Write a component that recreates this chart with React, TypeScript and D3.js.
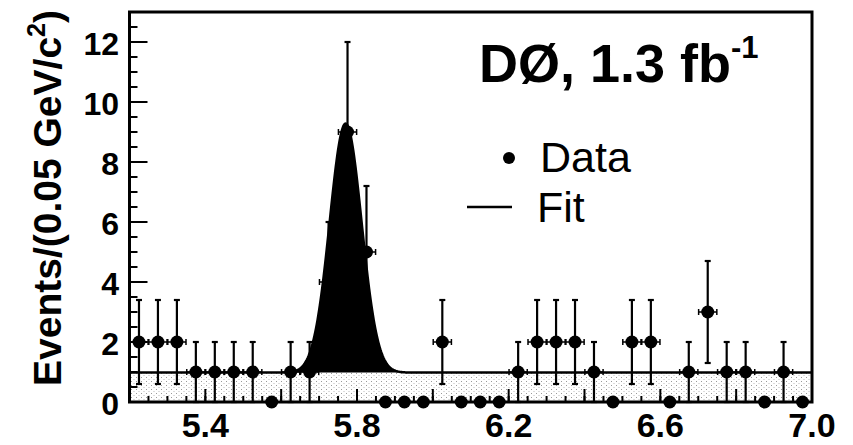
import React from "react";
import { scaleLinear, range, line, area } from "d3";

// bin centres (GeV/c^2), 0.05 wide
const masses = [
  5.225, 5.275, 5.325, 5.375, 5.425, 5.475, 5.525, 5.575, 5.625, 5.675, 5.725, 5.775,
  5.825, 5.875, 5.925, 5.975, 6.025, 6.075, 6.125, 6.175, 6.225, 6.275, 6.325, 6.375,
  6.425, 6.475, 6.525, 6.575, 6.625, 6.675, 6.725, 6.775, 6.825, 6.875, 6.925, 6.975,
];
const counts = [
  2, 2, 2, 1, 1, 1, 1, 0, 1, 1, 4, 9,
  5, 0, 0, 0, 2, 0, 0, 0, 1, 2, 2, 2,
  1, 0, 2, 2, 0, 1, 3, 1, 1, 0, 1, 0,
];
const errors = [
  1.4, 1.4, 1.4, 1, 1, 1, 1, 0, 1, 1, 2, 3,
  2.2, 0, 0, 0, 1.4, 0, 0, 0, 1, 1.4, 1.4, 1.4,
  1, 0, 1.4, 1.4, 0, 1, 1.7, 1, 1, 0, 1, 0,
];
const xTickLabels = [5.4, 5.8, 6.2, 6.6, 7.0];
const yTickLabels = [0, 2, 4, 6, 8, 10, 12];

// fit: flat background + gaussian
const fitBackground = 0.98;
const fitAmp = 8.3;
const fitMean = 5.77;
const fitSigma = 0.042;

const width = 853;
const height = 445;
const font = "'Liberation Sans', Arial, Helvetica, sans-serif";

const App = () => {
  const x = scaleLinear().domain([5.2, 7.0]).range([129.5, 812]);
  const y = scaleLinear().domain([0, 13]).range([402, 12]);

  const fitFn = (m: number) =>
    fitBackground + fitAmp * Math.exp(-0.5 * ((m - fitMean) / fitSigma) ** 2);
  const fitXs = range(5.2, 7.0001, 0.002);

  const fitLine = line<number>()
    .x((d) => x(d))
    .y((d) => y(fitFn(d)));
  const peakArea = area<number>()
    .x((d) => x(d))
    .y0(y(fitBackground))
    .y1((d) => y(fitFn(d)));
  const peakXs = range(fitMean - 6 * fitSigma, fitMean + 6 * fitSigma, 0.001);

  const minorX = range(5.2, 7.0001, 0.05);
  const majorX = range(5.2, 7.0001, 0.2);
  const minorY = range(0, 13.001, 0.5);
  const majorY = range(0, 13.001, 2);

  const halfBin = 0.024;

  return (
    <svg
      width={width}
      height={height}
      style={{ position: "absolute", left: 0, top: 0, background: "#fff" }}
    >
      <defs>
        <pattern id="stipple" width="5" height="4" patternUnits="userSpaceOnUse">
          <rect width="5" height="4" fill="#fff" />
          <rect x="1" y="1" width="1" height="1" fill="#999" />
          <rect x="3.5" y="3" width="1" height="1" fill="#bbb" />
        </pattern>
      </defs>

      {/* background component */}
      <rect
        x={x(5.2)}
        y={y(fitBackground)}
        width={x(7.0) - x(5.2)}
        height={y(0) - y(fitBackground)}
        fill="url(#stipple)"
      />
      {/* signal */}
      <path d={peakArea(peakXs) || ""} fill="#000" />
      <path d={fitLine(fitXs) || ""} fill="none" stroke="#000" strokeWidth={2.5} />

      {/* ticks */}
      {minorX.map((t, i) => (
        <line key={"mx" + i} x1={x(t)} x2={x(t)} y1={y(0)} y2={y(0) - 6} stroke="#000" strokeWidth={2} />
      ))}
      {majorX.map((t, i) => (
        <line key={"Mx" + i} x1={x(t)} x2={x(t)} y1={y(0)} y2={y(0) - 13} stroke="#000" strokeWidth={2} />
      ))}
      {minorY.map((t, i) => (
        <line key={"my" + i} x1={x(5.2)} x2={x(5.2) + 8} y1={y(t)} y2={y(t)} stroke="#000" strokeWidth={2} />
      ))}
      {majorY.map((t, i) => (
        <line key={"My" + i} x1={x(5.2)} x2={x(5.2) + 18} y1={y(t)} y2={y(t)} stroke="#000" strokeWidth={2} />
      ))}

      {/* data points */}
      {masses.map((m, i) => {
        const c = counts[i];
        const e = errors[i];
        const cx = x(m);
        const cy = y(c);
        return (
          <g key={"p" + i}>
            {e > 0 && (
              <>
                <line x1={cx} x2={cx} y1={y(c - e)} y2={y(c + e)} stroke="#000" strokeWidth={2.2} />
                <line x1={cx - 3} x2={cx + 3} y1={y(c + e)} y2={y(c + e)} stroke="#000" strokeWidth={2.2} />
                <line x1={cx - 3} x2={cx + 3} y1={y(c - e)} y2={y(c - e)} stroke="#000" strokeWidth={2.2} />
                <line x1={x(m - halfBin)} x2={x(m + halfBin)} y1={cy} y2={cy} stroke="#000" strokeWidth={1.5} />
                <line x1={x(m - halfBin)} x2={x(m - halfBin)} y1={cy - 3} y2={cy + 3} stroke="#000" strokeWidth={1.5} />
                <line x1={x(m + halfBin)} x2={x(m + halfBin)} y1={cy - 3} y2={cy + 3} stroke="#000" strokeWidth={1.5} />
              </>
            )}
            <circle cx={cx} cy={cy} r={6.5} fill="#000" />
          </g>
        );
      })}

      {/* frame */}
      <rect
        x={x(5.2)}
        y={y(13)}
        width={x(7.0) - x(5.2)}
        height={y(0) - y(13)}
        fill="none"
        stroke="#000"
        strokeWidth={3}
      />

      {/* axis labels */}
      {xTickLabels.map((t, i) => (
        <text
          key={"xl" + i}
          x={x(t)}
          y={437}
          textAnchor="middle"
          fontFamily={font}
          fontWeight="bold"
          fontSize={34}
        >
          {t.toFixed(1)}
        </text>
      ))}
      {yTickLabels.map((t, i) => (
        <text
          key={"yl" + i}
          x={119}
          y={y(t) + 12.5}
          textAnchor="end"
          fontFamily={font}
          fontWeight="bold"
          fontSize={32}
        >
          {t}
        </text>
      ))}
      <text
        transform="translate(61,198) rotate(-90)"
        textAnchor="middle"
        fontFamily={font}
        fontWeight="bold"
        fontSize={39}
        textLength={376}
        lengthAdjust="spacingAndGlyphs"
      >
        Events/(0.05 GeV/c
        <tspan fontSize={25} dy={-16}>2</tspan>
        <tspan dy={16}>)</tspan>
      </text>

      {/* experiment label */}
      <text x={479} y={82} fontFamily={font} fontWeight="bold" fontSize={54}>
        DØ, 1.3 fb
        <tspan fontSize={31} dy={-24}>-1</tspan>
      </text>

      {/* legend */}
      <circle cx={509} cy={158} r={6} fill="#000" />
      <text x={540} y={172} fontFamily={font} fontSize={43}>Data</text>
      <line x1={467} x2={512} y1={207} y2={207} stroke="#000" strokeWidth={2.5} />
      <text x={537} y={222} fontFamily={font} fontSize={43}>Fit</text>
    </svg>
  );
};

export default App;
